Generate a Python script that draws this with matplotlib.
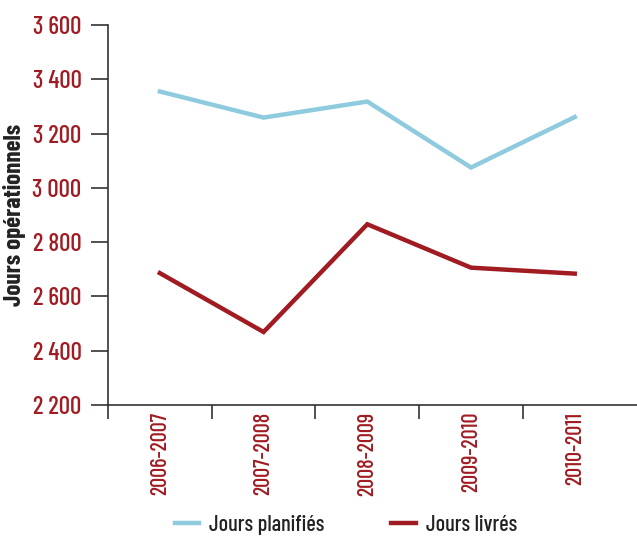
import matplotlib
matplotlib.use("Agg")
import matplotlib.pyplot as plt
from matplotlib.lines import Line2D
from matplotlib.ticker import FuncFormatter

# data
periods = ['2006-2007', '2007-2008', '2008-2009', '2009-2010', '2010-2011']
jours_planifies = [3355, 3259, 3318, 3075, 3261]
jours_livres = [2686, 2469, 2866, 2706, 2684]
y_ticks = [2200, 2400, 2600, 2800, 3000, 3200, 3400, 3600]

blue = '#8fcbdf'
red = '#a01c22'
dark = '#333333'

plt.rcParams['font.family'] = ['Barlow Condensed', 'DejaVu Sans']
plt.rcParams['font.weight'] = 500

fig = plt.figure(figsize=(6.37, 5.38), dpi=100)
ax = fig.add_axes([0.1695, 0.2472, 0.8305, 0.7063])

x = list(range(len(periods)))
ax.plot(x, jours_planifies, color=blue, lw=3.2, solid_joinstyle='miter')
ax.plot(x, jours_livres, color=red, lw=3.2, solid_joinstyle='miter')

ax.set_xlim(-0.5, 4.6)
ax.set_ylim(2200, 3600)
ax.set_yticks(y_ticks)
ax.yaxis.set_major_formatter(FuncFormatter(lambda v, p: '{:,.0f}'.format(v).replace(',', ' ')))

ax.set_xticks(x)
ax.set_xticklabels(periods, rotation=90)
ax.set_xticks([i - 0.5 for i in x], minor=True)
ax.tick_params(axis='x', which='major', length=0, pad=5, labelsize=16, labelcolor=red)
ax.tick_params(axis='x', which='minor', length=10, width=1.2, color=dark)
ax.tick_params(axis='y', length=12, width=1.2, color=dark, pad=7, labelsize=18, labelcolor=red)

for s in ['top', 'right']:
    ax.spines[s].set_visible(False)
for s in ['left', 'bottom']:
    ax.spines[s].set_color(dark)
    ax.spines[s].set_linewidth(1.2)

ax.set_ylabel('Jours opérationnels', fontsize=18, fontweight='bold', color='#222222')
ax.yaxis.set_label_coords(-0.155, 0.5)

handles = [Line2D([], [], color=blue, lw=3.2), Line2D([], [], color=red, lw=3.2)]
fig.legend(handles, ['Jours planifiés', 'Jours livrés'], loc='center',
           bbox_to_anchor=(0.543, 0.025), ncol=2, frameon=False, fontsize=16,
           handlelength=1.1, handletextpad=0.45, columnspacing=3.0,
           labelcolor='#222222', borderpad=0)

fig.savefig('out.png', dpi=100)
